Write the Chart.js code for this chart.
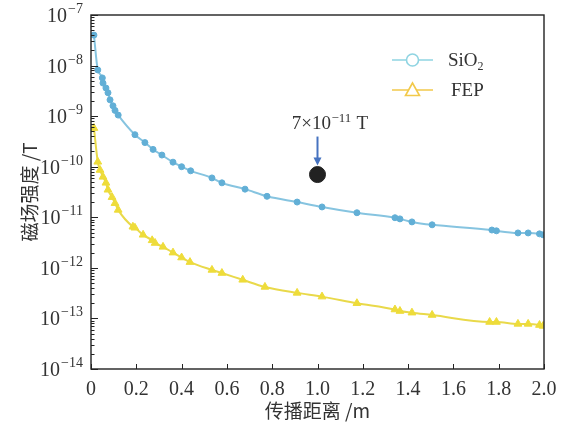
<!DOCTYPE html>
<html>
<head>
<meta charset="utf-8">
<script src="https://cdn.jsdelivr.net/npm/chart.js@4.4.1/dist/chart.umd.min.js"></script>
<style>
  html, body { margin: 0; padding: 0; background: #fff; }
  canvas { display: block; }
</style>
</head>
<body>
<canvas id="fieldChart" width="566" height="425"></canvas>
<script>
// propagation distance (m) and field strength (T) per material
const sio2Dist = [0.013, 0.03, 0.05, 0.053, 0.066, 0.075, 0.084, 0.097, 0.106, 0.12,
  0.194, 0.238, 0.274, 0.313, 0.362, 0.40, 0.44, 0.534, 0.578, 0.68, 0.777, 0.91,
  1.02, 1.174, 1.342, 1.364, 1.417, 1.506, 1.77, 1.79, 1.885, 1.93, 1.98, 1.996];
const sio2Field = [4.0e-8, 8.2e-9, 5.7e-9, 4.5e-9, 3.6e-9, 2.9e-9, 2.1e-9, 1.6e-9, 1.3e-9, 1.05e-9,
  4.3e-10, 3.0e-10, 2.2e-10, 1.7e-10, 1.23e-10, 1.0e-10, 8.3e-11, 6.0e-11, 4.8e-11, 3.6e-11,
  2.6e-11, 2.0e-11, 1.6e-11, 1.23e-11, 9.8e-12, 9.3e-12, 8.1e-12, 7.1e-12, 5.6e-12, 5.4e-12,
  4.9e-12, 4.9e-12, 4.7e-12, 4.5e-12];

const fepDist = [0.013, 0.03, 0.04, 0.053, 0.066, 0.075, 0.093, 0.106, 0.12, 0.185, 0.194,
  0.23, 0.27, 0.283, 0.318, 0.362, 0.40, 0.437, 0.534, 0.578, 0.67, 0.768, 0.91, 1.02,
  1.174, 1.342, 1.364, 1.417, 1.506, 1.76, 1.79, 1.885, 1.93, 1.98, 1.996];
const fepField = [5.8e-10, 1.25e-10, 8.6e-11, 6.3e-11, 4.8e-11, 3.5e-11, 2.5e-11, 1.9e-11, 1.4e-11,
  6.5e-12, 6.2e-12, 4.5e-12, 3.5e-12, 3.1e-12, 2.6e-12, 2.0e-12, 1.6e-12, 1.3e-12, 9.1e-13,
  7.9e-13, 5.8e-13, 4.2e-13, 3.2e-13, 2.7e-13, 2.0e-13, 1.5e-13, 1.4e-13, 1.3e-13, 1.17e-13,
  8.5e-14, 8.5e-14, 7.8e-14, 7.8e-14, 7.4e-14, 7.1e-14];

// marked reading at 1 m
const markDist = [1.0];
const markField = [7e-11];
const markLabel = ["7×10", "−11", " T"];

const yExponents = [-7, -8, -9, -10, -11, -12, -13, -14];
const legendNames = [["SiO", "2"], ["FEP", ""]];

const serif = '"Liberation Serif", "DejaVu Serif", serif';
const cjk = '"Noto Sans CJK SC", "Noto Sans", sans-serif';
const ink = "#333";

const sio2Line = "#86c4e0";
const sio2Dot = "#62afd6";
const fepLine = "#e9d94a";
const fepDot = "#eedc3a";

function toPoints(xs, ys) {
  return xs.map((x, i) => ({ x: x, y: ys[i] }));
}

// frame, inward ticks, superscript y labels, legend and the arrow note
const decorations = {
  id: "decorations",
  afterDraw(chart) {
    const ctx = chart.ctx;
    const area = chart.chartArea;
    const xs = chart.scales.x;
    const ys = chart.scales.y;
    ctx.save();

    // box
    ctx.strokeStyle = "#222";
    ctx.lineWidth = 1.4;
    ctx.strokeRect(area.left, area.top, area.right - area.left, area.bottom - area.top);

    // y ticks, major and minor, pointing in
    ctx.lineWidth = 1;
    yExponents.forEach((e) => {
      for (let m = 1; m <= 9; m++) {
        if (e === -7 && m > 1) break;
        const py = Math.round(ys.getPixelForValue(m * Math.pow(10, e))) + 0.5;
        const len = m === 1 ? 7 : 3.5;
        ctx.beginPath();
        ctx.moveTo(area.left, py);
        ctx.lineTo(area.left + len, py);
        ctx.stroke();
      }
    });

    // x ticks pointing in
    xs.ticks.forEach((t) => {
      const px = Math.round(xs.getPixelForValue(t.value)) + 0.5;
      ctx.beginPath();
      ctx.moveTo(px, area.bottom);
      ctx.lineTo(px, area.bottom - 5);
      ctx.stroke();
    });

    // y labels as 10 with a raised exponent
    ctx.fillStyle = ink;
    ctx.textBaseline = "alphabetic";
    yExponents.forEach((e) => {
      const py = ys.getPixelForValue(Math.pow(10, e));
      const expText = "−" + Math.abs(e);
      ctx.font = "14px " + serif;
      const expW = ctx.measureText(expText).width;
      ctx.font = "20px " + serif;
      const baseW = ctx.measureText("10").width;
      const right = area.left - 8;
      ctx.textAlign = "left";
      ctx.fillText("10", right - expW - baseW - 1, py + 7);
      ctx.font = "14px " + serif;
      ctx.fillText(expText, right - expW, py - 2);
    });

    // legend
    const rows = [
      { y: 60, color: "#8fd4e2", shape: "circle" },
      { y: 90, color: "#f2c94a", shape: "triangle" },
    ];
    rows.forEach((r, i) => {
      ctx.strokeStyle = r.color;
      ctx.lineWidth = 1.6;
      ctx.beginPath();
      ctx.moveTo(392, r.y);
      ctx.lineTo(433, r.y);
      ctx.stroke();
      ctx.fillStyle = "#fff";
      ctx.beginPath();
      if (r.shape === "circle") {
        ctx.arc(412.5, r.y, 6, 0, Math.PI * 2);
      } else {
        ctx.moveTo(412.5, r.y - 7);
        ctx.lineTo(419.5, r.y + 5.5);
        ctx.lineTo(405.5, r.y + 5.5);
        ctx.closePath();
      }
      ctx.fill();
      ctx.stroke();
      ctx.fillStyle = ink;
      ctx.textAlign = "left";
      ctx.font = "19px " + serif;
      const name = legendNames[i];
      const nx = i === 0 ? 448 : 451;
      ctx.fillText(name[0], nx, r.y + 6);
      if (name[1]) {
        const w = ctx.measureText(name[0]).width;
        ctx.font = "12px " + serif;
        ctx.fillText(name[1], nx + w, r.y + 10);
      }
    });

    // arrow and label over the marked point
    const mx = xs.getPixelForValue(markDist[0]);
    const my = ys.getPixelForValue(markField[0]);
    ctx.strokeStyle = "#4673c0";
    ctx.fillStyle = "#4673c0";
    ctx.lineWidth = 2;
    ctx.beginPath();
    ctx.moveTo(mx, my - 38);
    ctx.lineTo(mx, my - 15);
    ctx.stroke();
    ctx.beginPath();
    ctx.moveTo(mx - 4, my - 17);
    ctx.lineTo(mx + 4, my - 17);
    ctx.lineTo(mx, my - 9);
    ctx.closePath();
    ctx.fill();

    ctx.fillStyle = ink;
    ctx.font = "19px " + serif;
    const w0 = ctx.measureText(markLabel[0]).width;
    const w2 = ctx.measureText(markLabel[2]).width;
    ctx.font = "13px " + serif;
    const w1 = ctx.measureText(markLabel[1]).width;
    let tx = mx + 12 - (w0 + w1 + w2) / 2;
    const ty = my - 46;
    ctx.font = "19px " + serif;
    ctx.fillText(markLabel[0], tx, ty);
    ctx.font = "13px " + serif;
    ctx.fillText(markLabel[1], tx + w0 + 0.5, ty - 7);
    ctx.font = "19px " + serif;
    ctx.fillText(markLabel[2], tx + w0 + w1 + 1, ty);

    ctx.restore();
  },
};

new Chart(document.getElementById("fieldChart"), {
  type: "line",
  data: {
    datasets: [
      {
        label: "SiO2",
        data: toPoints(sio2Dist, sio2Field),
        borderColor: sio2Line,
        borderWidth: 2,
        pointStyle: "circle",
        pointRadius: 3,
        pointBackgroundColor: sio2Dot,
        pointBorderColor: sio2Dot,
        pointBorderWidth: 1,
        cubicInterpolationMode: "monotone",
        tension: 0,
      },
      {
        label: "FEP",
        data: toPoints(fepDist, fepField),
        borderColor: fepLine,
        borderWidth: 2,
        pointStyle: "triangle",
        pointRadius: 4.5,
        pointBackgroundColor: fepDot,
        pointBorderColor: fepDot,
        pointBorderWidth: 1,
        cubicInterpolationMode: "monotone",
        tension: 0,
      },
      {
        label: "mark",
        data: toPoints(markDist, markField),
        showLine: false,
        pointRadius: 8,
        pointBackgroundColor: "#222",
        pointBorderColor: "#222",
      },
    ],
  },
  options: {
    responsive: false,
    animation: false,
    events: [],
    layout: { padding: { top: 15, right: 22, left: 0, bottom: 0 } },
    plugins: {
      legend: { display: false },
      tooltip: { enabled: false },
    },
    scales: {
      x: {
        type: "linear",
        min: 0,
        max: 2,
        afterFit: (scale) => { scale.height = 56; },
        grid: { display: false, drawTicks: false },
        border: { display: false },
        ticks: {
          stepSize: 0.2,
          autoSkip: false,
          maxRotation: 0,
          padding: 9,
          color: ink,
          font: { family: serif, size: 20 },
          callback: (v) => (Math.abs(v) < 1e-9 ? "0" : Number(v).toFixed(1)),
        },
        title: {
          display: true,
          text: "传播距离 /m",
          color: ink,
          font: { family: cjk, size: 19 },
          padding: { top: 0, bottom: 3 },
        },
      },
      y: {
        type: "logarithmic",
        min: 1e-14,
        max: 1e-7,
        afterFit: (scale) => { scale.width = 91; },
        grid: { display: false, drawTicks: false },
        border: { display: false },
        ticks: { display: false },
        title: {
          display: true,
          text: "磁场强度 /T",
          color: ink,
          font: { family: cjk, size: 19 },
          padding: { top: 18, bottom: 0 },
        },
      },
    },
  },
  plugins: [decorations],
});
</script>
</body>
</html>
